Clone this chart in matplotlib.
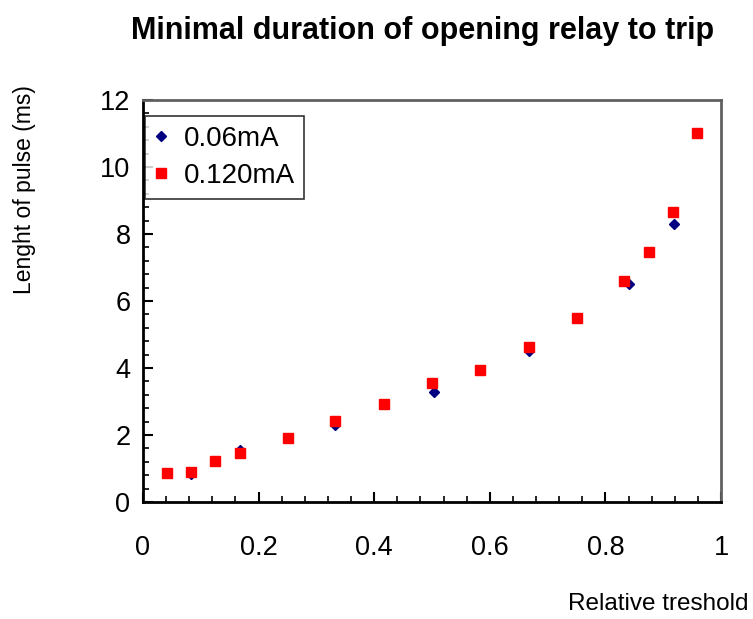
import matplotlib
matplotlib.use("Agg")
import matplotlib.pyplot as plt
from matplotlib.ticker import MultipleLocator

plt.rcParams['font.family'] = ['Liberation Sans', 'DejaVu Sans']

# Minimal pulse length for the opening relay, per trip current
x_006 = [0.0417, 0.083, 0.125, 0.167, 0.25, 0.333, 0.417, 0.503, 0.583, 0.667, 0.75, 0.841, 0.875, 0.918]
y_006 = [0.87, 0.85, 1.22, 1.55, 1.90, 2.30, 2.93, 3.29, 3.93, 4.52, 5.48, 6.51, 7.46, 8.30]

x_012 = [0.0417, 0.083, 0.125, 0.167, 0.25, 0.333, 0.417, 0.5, 0.583, 0.667, 0.75, 0.833, 0.875, 0.917, 0.958]
y_012 = [0.87, 0.90, 1.22, 1.46, 1.90, 2.42, 2.93, 3.54, 3.93, 4.64, 5.48, 6.60, 7.46, 8.66, 11.01]

x_ticks = [0, 0.2, 0.4, 0.6, 0.8, 1]
x_tick_labels = ["0", "0.2", "0.4", "0.6", "0.8", "1"]
y_ticks = [0, 2, 4, 6, 8, 10, 12]

fig = plt.figure(figsize=(7.53, 6.19), dpi=100)
ax = fig.add_axes([143 / 753, 1 - 502 / 619, 578 / 753, 402 / 619])

ax.plot(x_006, y_006, linestyle='none', marker='D', markersize=5.4,
        color='#000080', label='0.06mA', zorder=3)
ax.plot(x_012, y_012, linestyle='none', marker='s', markersize=6.5,
        color='#ff0000', label='0.120mA', zorder=4)

ax.set_xlim(0, 1)
ax.set_ylim(0, 12)
ax.set_xticks(x_ticks)
ax.set_xticklabels(x_tick_labels)
ax.set_yticks(y_ticks)
ax.xaxis.set_minor_locator(MultipleLocator(0.04))
ax.yaxis.set_minor_locator(MultipleLocator(0.4))

ax.tick_params(axis='both', which='major', direction='in', length=7, width=1.5,
               labelsize=19.5, colors='black')
ax.tick_params(axis='both', which='minor', direction='in', length=4.5, width=1.2)
ax.tick_params(axis='x', which='major', pad=24)
ax.tick_params(axis='y', which='major', pad=9)

for side in ('left', 'bottom'):
    ax.spines[side].set_color('black')
    ax.spines[side].set_linewidth(2)
for side in ('top', 'right'):
    ax.spines[side].set_color('#606060')
    ax.spines[side].set_linewidth(2)

leg = ax.legend(loc='upper left', bbox_to_anchor=(0.003, 0.96), fontsize=20,
                frameon=True, fancybox=False, edgecolor='black',
                handlelength=0.5, handletextpad=0.55, borderpad=0.35,
                labelspacing=0.4, borderaxespad=0.0)
leg.get_frame().set_linewidth(1.2)

fig.text(423 / 753, 1 - 31 / 619, 'Minimal duration of opening relay to trip',
         ha='center', va='center', fontsize=22, fontweight='bold')
fig.text(25 / 753, 1 - 190 / 619, 'Lenght of pulse (ms)', rotation=90,
         ha='center', va='center', fontsize=16.5)
fig.text(748 / 753, 1 - 604 / 619, 'Relative treshold',
         ha='right', va='center', fontsize=17.5)

fig.savefig('out.png', dpi=100, facecolor='white')
